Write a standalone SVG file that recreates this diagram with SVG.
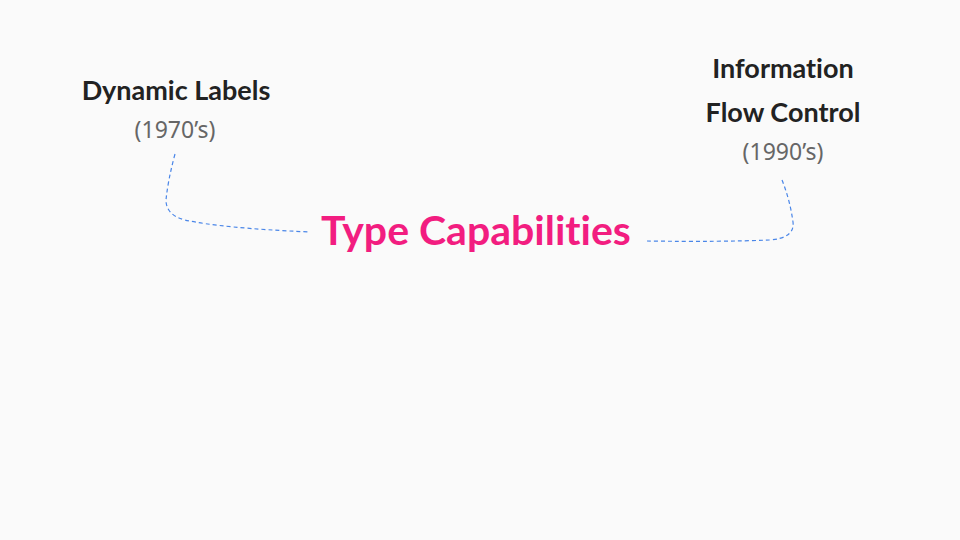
<svg xmlns="http://www.w3.org/2000/svg" width="960" height="540" viewBox="0 0 960 540">
  <style>
    text { font-variant-ligatures: none; }
    .title { font-family: "Lato", "Liberation Sans", sans-serif; font-weight: bold; fill: #222222; font-size: 27px; text-anchor: middle; }
    .era { font-family: "Noto Sans", "DejaVu Sans", sans-serif; fill: #666666; font-size: 23px; text-anchor: middle; }
    .main { font-family: "Lato", "Liberation Sans", sans-serif; font-weight: bold; fill: #f21d80; font-size: 41px; text-anchor: middle; }
    .link { fill: none; stroke: #4a86e8; stroke-width: 1.2; stroke-dasharray: 4 3; }
  </style>
  <rect width="960" height="540" fill="#fafafa"/>

  <g id="connectors">
    <path class="link" d="M175 154 Q168 180 166 200 Q166 215 185 220 Q220 228 310 232"/>
    <path class="link" d="M782 180 Q790 200 793 222 Q795 238 770 240 Q720 242 647 241"/>
  </g>

  <g id="node-dynamic-labels">
    <text class="title" x="176" y="100">Dynamic Labels</text>
    <text class="era" x="175" y="138">(1970’s)</text>
  </g>

  <g id="node-information-flow">
    <text class="title" x="783" y="78">Information</text>
    <text class="title" x="783" y="122">Flow Control</text>
    <text class="era" x="783" y="160">(1990’s)</text>
  </g>

  <g id="node-type-capabilities">
    <text class="main" x="476" y="245">Type Capabilities</text>
  </g>
</svg>
